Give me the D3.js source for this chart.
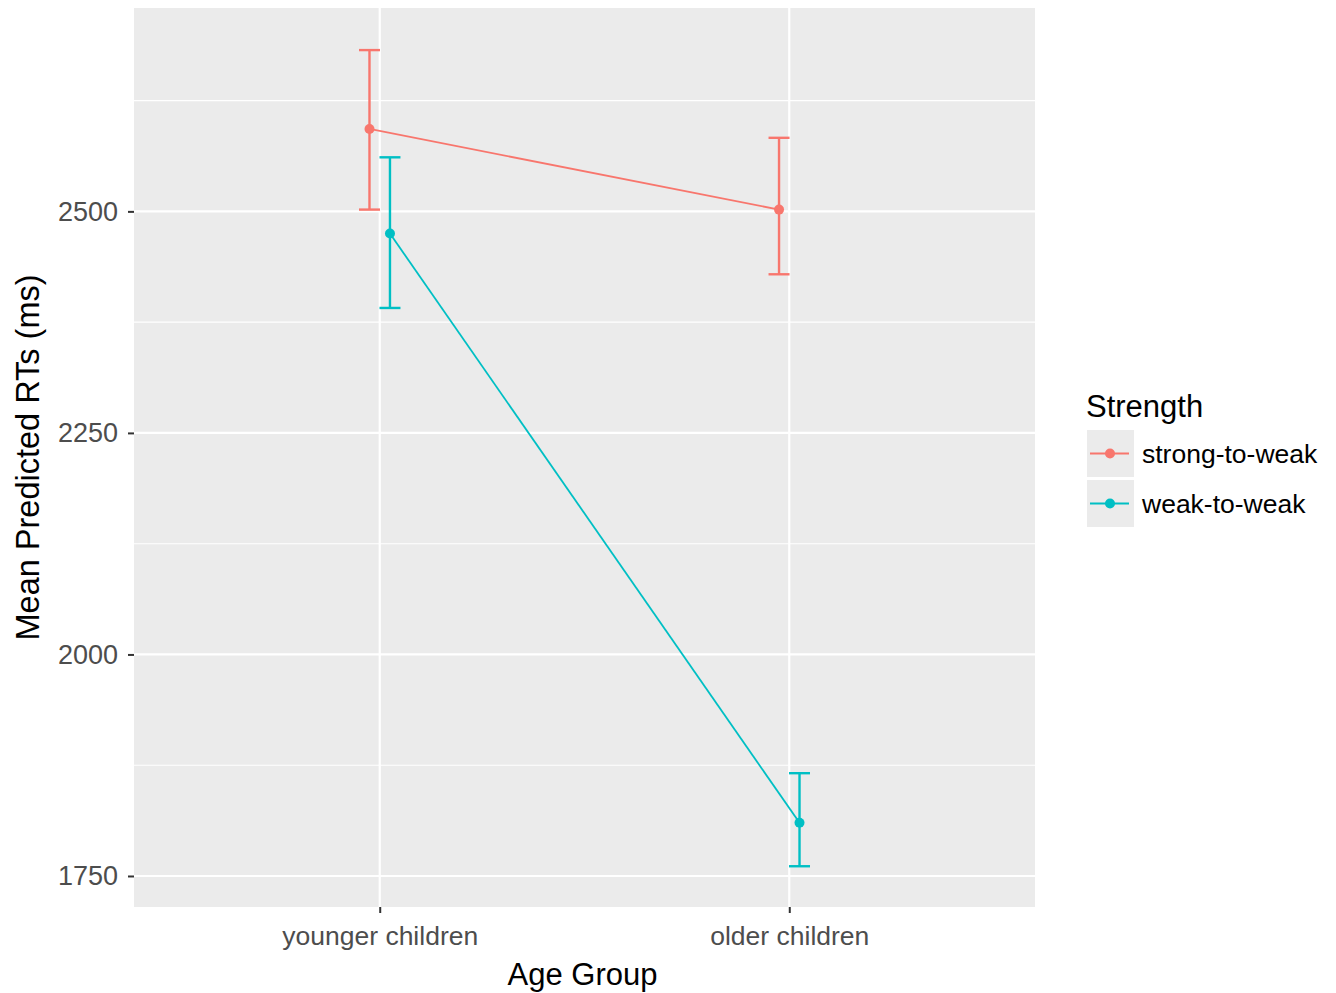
<!DOCTYPE html>
<html>
<head>
<meta charset="utf-8">
<script src="https://cdn.jsdelivr.net/npm/d3@7"></script>
<style>
  html, body { margin: 0; padding: 0; background: #fff; }
  svg { display: block; font-family: "Liberation Sans", Arial, sans-serif; }
</style>
</head>
<body>
<svg id="chart" width="1336" height="993"></svg>
<script>
// ---- data ----
const ageGroups = ["younger children", "older children"];
const strengths = ["strong-to-weak", "weak-to-weak"];
const strongMean = [2593, 2502];
const strongLow  = [2502, 2429];
const strongHigh = [2682, 2583];
const weakMean   = [2475, 1810];
const weakLow    = [2391, 1761];
const weakHigh   = [2561, 1866];
const yTicks = [1750, 2000, 2250, 2500];
const yMinorTicks = [1875, 2125, 2375, 2625];
const colors = ["#F8766D", "#00BFC4"];

const series = [
  { name: strengths[0], color: colors[0], dodge: -1,
    pts: ageGroups.map((g, i) => ({ g, m: strongMean[i], lo: strongLow[i], hi: strongHigh[i] })) },
  { name: strengths[1], color: colors[1], dodge: 1,
    pts: ageGroups.map((g, i) => ({ g, m: weakMean[i], lo: weakLow[i], hi: weakHigh[i] })) }
];

// ---- layout ----
const svg = d3.select("#chart");
const P = { left: 134, right: 1035, top: 8, bottom: 907 };

const x = d3.scalePoint().domain(ageGroups).range([P.left, P.right]).padding(0.6);
const y = d3.scaleLinear().domain([1715, 2729.5]).range([P.bottom, P.top]);
const dodgePx = x.step() * 0.025;

// panel
svg.append("rect").attr("x", P.left).attr("y", P.top)
  .attr("width", P.right - P.left).attr("height", P.bottom - P.top)
  .attr("fill", "#EBEBEB");

// minor grid
svg.append("g").selectAll("line").data(yMinorTicks).join("line")
  .attr("x1", P.left).attr("x2", P.right)
  .attr("y1", d => y(d)).attr("y2", d => y(d))
  .attr("stroke", "#fff").attr("stroke-width", 1.1);
// major grid
svg.append("g").selectAll("line").data(yTicks).join("line")
  .attr("x1", P.left).attr("x2", P.right)
  .attr("y1", d => y(d)).attr("y2", d => y(d))
  .attr("stroke", "#fff").attr("stroke-width", 2.2);
svg.append("g").selectAll("line").data(ageGroups).join("line")
  .attr("x1", d => x(d)).attr("x2", d => x(d))
  .attr("y1", P.top).attr("y2", P.bottom)
  .attr("stroke", "#fff").attr("stroke-width", 2.2);

// axes
const yAxis = svg.append("g").attr("transform", `translate(${P.left},0)`)
  .call(d3.axisLeft(y).tickValues(yTicks).tickSize(6).tickPadding(10).tickFormat(d3.format("d")));
const xAxis = svg.append("g").attr("transform", `translate(0,${P.bottom})`)
  .call(d3.axisBottom(x).tickSize(6).tickPadding(8));
[yAxis, xAxis].forEach(a => {
  a.select(".domain").remove();
  a.selectAll(".tick line").attr("stroke", "#333").attr("stroke-width", 2);
  a.selectAll(".tick text").attr("fill", "#4D4D4D")
    .attr("font-size", 26.5).attr("font-family", "'Liberation Sans', Arial, sans-serif");
});
yAxis.selectAll(".tick text").attr("font-size", 27);
xAxis.selectAll(".tick text").attr("dy", null).attr("y", 38);

// axis titles
svg.append("text").attr("x", (P.left + P.right) / 2 - 2).attr("y", 985)
  .attr("text-anchor", "middle").attr("font-size", 31).attr("fill", "#000")
  .text("Age Group");
svg.append("text")
  .attr("transform", `translate(39,${(P.top + P.bottom) / 2}) rotate(-90)`)
  .attr("text-anchor", "middle").attr("font-size", 32.5).attr("fill", "#000")
  .text("Mean Predicted RTs (ms)");

// data
const line = d3.line().x(d => d.x).y(d => y(d.m));
series.forEach(s => {
  const pts = s.pts.map(p => ({ ...p, x: x(p.g) + s.dodge * dodgePx }));
  const g = svg.append("g");
  g.append("path").datum(pts).attr("d", line)
    .attr("fill", "none").attr("stroke", s.color).attr("stroke-width", 1.8);
  pts.forEach(p => {
    g.append("line").attr("x1", p.x).attr("x2", p.x).attr("y1", y(p.lo)).attr("y2", y(p.hi))
      .attr("stroke", s.color).attr("stroke-width", 2.4);
    [p.lo, p.hi].forEach(v => {
      g.append("line").attr("x1", p.x - 10.5).attr("x2", p.x + 10.5).attr("y1", y(v)).attr("y2", y(v))
        .attr("stroke", s.color).attr("stroke-width", 2.4);
    });
    g.append("circle").attr("cx", p.x).attr("cy", y(p.m)).attr("r", 5).attr("fill", s.color);
  });
});

// legend
const L = svg.append("g").attr("transform", "translate(1086,0)");
L.append("text").attr("x", 0).attr("y", 417).attr("font-size", 31).attr("fill", "#000").text("Strength");
series.forEach((s, i) => {
  const top = 430 + i * 50;
  const k = L.append("g").attr("transform", `translate(1,${top})`);
  k.append("rect").attr("width", 47).attr("height", 47).attr("fill", "#EBEBEB");
  k.append("line").attr("x1", 3).attr("x2", 42).attr("y1", 23.5).attr("y2", 23.5)
    .attr("stroke", s.color).attr("stroke-width", 2.2);
  k.append("circle").attr("cx", 23).attr("cy", 23.5).attr("r", 5).attr("fill", s.color);
  L.append("text").attr("x", 56).attr("y", top + 24).attr("dy", "0.35em")
    .attr("font-size", 26.5).attr("fill", "#000").text(s.name);
});
</script>
</body>
</html>
